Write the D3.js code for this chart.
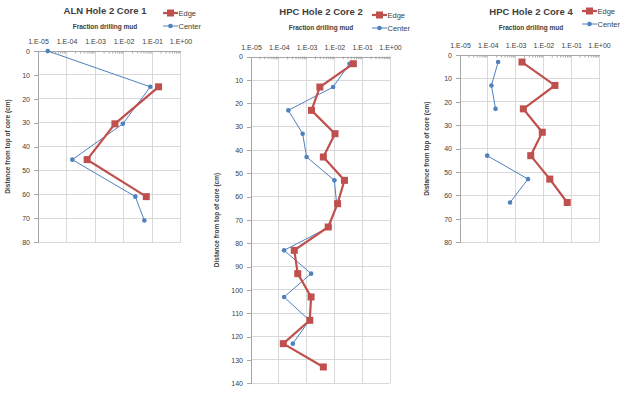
<!DOCTYPE html>
<html><head><meta charset="utf-8">
<script src="https://cdn.jsdelivr.net/npm/d3@7"></script>
<style>body{margin:0;background:#fff}svg{display:block}text{font-family:"Liberation Sans",Arial,sans-serif;fill:#404040}</style>
</head><body><svg id="c" width="624" height="397"></svg>
<script>
// ---- data ----
const decadeTicks = [1e-5, 1e-4, 1e-3, 1e-2, 1e-1, 1];
const seriesNames = ["Edge", "Center"];

const aln1Title = "ALN Hole 2 Core 1";
const aln1EdgeDepth = [15, 30.5, 45.5, 61];
const aln1Edge = [0.17, 0.005, 5.3e-4, 0.063];
const aln1CenterDepth = [0, 15, 30.5, 45.5, 61, 71];
const aln1Center = [2.2e-5, 0.087, 0.0095, 1.6e-4, 0.026, 0.054];
const aln1DepthTicks = [0, 10, 20, 30, 40, 50, 60, 70, 80];

const hpc2Title = "HPC Hole 2 Core 2";
const hpc2Depth = [3, 13, 23, 33, 43, 53, 63, 73, 83, 93, 103, 113, 123, 133];
const hpc2Edge = [0.048, 0.003, 0.0015, 0.0105, 0.004, 0.023, 0.013, 0.006, 3.6e-4, 4.8e-4, 0.00145, 0.0013, 1.45e-4, 0.004];
const hpc2Center = [0.035, 0.009, 2.2e-4, 7.2e-4, 0.001, 0.01, 0.012, 0.0066, 1.55e-4, 0.00145, 1.55e-4, 0.00125, 3.2e-4, null];
const hpc2DepthTicks = [0, 10, 20, 30, 40, 50, 60, 70, 80, 90, 100, 110, 120, 130, 140];

const hpc4Title = "HPC Hole 2 Core 4";
const hpc4Depth = [3, 13, 23, 33, 43, 53, 63];
const hpc4Edge = [0.0017, 0.026, 0.0019, 0.0091, 0.0035, 0.017, 0.072];
const hpc4Center = [2.35e-4, 1.35e-4, 1.9e-4, null, 9.5e-5, 0.0028, 6.3e-4];
const hpc4DepthTicks = [0, 10, 20, 30, 40, 50, 60, 70, 80];

const xTitle = "Fraction drilling mud";
const yTitle = "Distance from top of core (cm)";

// ---- drawing ----
const svg = d3.select("#c");
const EDGE = "#C0504D", CENTER = "#4F81BD";
const fmt = v => { const e = Math.round(Math.log10(v)); return "1.E" + (e < 0 ? "-" : "+") + String(Math.abs(e)).padStart(2, "0"); };

function zip(d, v) { return d.map((y, i) => ({ y, v: v[i] })); }

function drawChart(o) {
  const g = svg.append("g");
  const x = d3.scaleLog().domain([1e-5, 1]).range([o.x0, o.x1]);
  const y = d3.scaleLinear().domain([0, o.yMax]).range([o.y0, o.y1]);

  // gridlines
  g.append("g").selectAll("line").data(o.yTicks.slice(1)).join("line")
    .attr("x1", o.x0).attr("x2", o.x1).attr("y1", d => y(d)).attr("y2", d => y(d))
    .attr("stroke", "#D9D9D9").attr("stroke-width", 1).attr("shape-rendering", "crispEdges");
  g.append("g").selectAll("line").data(decadeTicks.slice(1)).join("line")
    .attr("x1", d => x(d)).attr("x2", d => x(d)).attr("y1", o.y0).attr("y2", o.y1)
    .attr("stroke", "#D9D9D9").attr("stroke-width", 1).attr("shape-rendering", "crispEdges");

  // top axis major
  const ax = g.append("g").attr("transform", `translate(0,${o.y0})`)
    .call(d3.axisTop(x).tickValues(decadeTicks).tickFormat(fmt).tickSize(0).tickPadding(7));
  ax.select(".domain").attr("stroke", "#A6A6A6").attr("shape-rendering", "crispEdges");
  ax.selectAll("text").attr("font-size", 7).attr("fill", "#404040");
  // minor ticks
  const minor = [];
  for (let e = -5; e < 0; e++) for (let k = 2; k <= 9; k++) minor.push(k * Math.pow(10, e));
  const mx = g.append("g").attr("transform", `translate(0,${o.y0})`)
    .call(d3.axisTop(x).tickValues(minor).tickFormat("").tickSize(-2.5));
  mx.select(".domain").remove();
  mx.selectAll("line").attr("stroke", "#A6A6A6");

  // left axis
  const ay = g.append("g").attr("transform", `translate(${o.x0},0)`)
    .call(d3.axisLeft(y).tickValues(o.yTicks).tickSize(4).tickPadding(4));
  ay.select(".domain").attr("stroke", "#A6A6A6").attr("shape-rendering", "crispEdges");
  ay.selectAll("line").attr("stroke", "#A6A6A6").attr("shape-rendering", "crispEdges");
  ay.selectAll("text").attr("font-size", 7).attr("fill", "#404040");

  // titles
  g.append("text").attr("x", o.tx).attr("y", o.ty).attr("text-anchor", "middle")
    .attr("font-size", 9.5).attr("font-weight", "bold").text(o.title);
  g.append("text").attr("x", o.tx).attr("y", o.ty + 15).attr("text-anchor", "middle")
    .attr("font-size", 6.5).attr("font-weight", "bold").text(xTitle);
  g.append("text").attr("transform", `translate(${o.ytx},${(o.y0 + o.y1) / 2}) rotate(-90)`)
    .attr("text-anchor", "middle").attr("font-size", 6.5).attr("font-weight", "bold").text(yTitle);

  const line = d3.line().defined(d => d.v != null).x(d => x(d.v)).y(d => y(d.y));

  // center series
  const cd = zip(o.cDepth, o.center);
  g.append("path").attr("d", line(cd)).attr("fill", "none").attr("stroke", CENTER).attr("stroke-width", 1);
  g.append("g").selectAll("circle").data(cd.filter(d => d.v != null)).join("circle")
    .attr("cx", d => x(d.v)).attr("cy", d => y(d.y)).attr("r", 2.3).attr("fill", CENTER);

  // edge series
  const ed = zip(o.eDepth, o.edge);
  g.append("path").attr("d", line(ed)).attr("fill", "none").attr("stroke", EDGE).attr("stroke-width", 2.2);
  g.append("g").selectAll("rect").data(ed.filter(d => d.v != null)).join("rect")
    .attr("x", d => x(d.v) - 3.5).attr("y", d => y(d.y) - 3.5).attr("width", 7).attr("height", 7)
    .attr("fill", EDGE);

  // legend
  const lg = g.append("g").attr("transform", `translate(${o.lx},${o.ly})`);
  lg.append("line").attr("x1", 0).attr("x2", 15).attr("y1", 0).attr("y2", 0).attr("stroke", EDGE).attr("stroke-width", 2.2);
  lg.append("rect").attr("x", 4).attr("y", -3.5).attr("width", 7).attr("height", 7).attr("fill", EDGE);
  lg.append("text").attr("x", 15.5).attr("y", 2.5).attr("font-size", 7.5).text(seriesNames[0]);
  lg.append("line").attr("x1", 0).attr("x2", 15).attr("y1", 13).attr("y2", 13).attr("stroke", CENTER).attr("stroke-width", 1);
  lg.append("circle").attr("cx", 7.5).attr("cy", 13).attr("r", 2.3).attr("fill", CENTER);
  lg.append("text").attr("x", 15.5).attr("y", 15.5).attr("font-size", 7.5).text(seriesNames[1]);
}

drawChart({ title: aln1Title, x0: 38, x1: 180.5, y0: 51, y1: 242, yMax: 80, yTicks: aln1DepthTicks,
  eDepth: aln1EdgeDepth, edge: aln1Edge, cDepth: aln1CenterDepth, center: aln1Center,
  tx: 105, ty: 14, ytx: 10, lx: 163, ly: 13 });
drawChart({ title: hpc2Title, x0: 251, x1: 390, y0: 56.7, y1: 383.3, yMax: 140, yTicks: hpc2DepthTicks,
  eDepth: hpc2Depth, edge: hpc2Edge, cDepth: hpc2Depth, center: hpc2Center,
  tx: 321, ty: 15, ytx: 219, lx: 372, ly: 15 });
drawChart({ title: hpc4Title, x0: 460, x1: 599, y0: 55, y1: 242.3, yMax: 80, yTicks: hpc4DepthTicks,
  eDepth: hpc4Depth, edge: hpc4Edge, cDepth: hpc4Depth, center: hpc4Center,
  tx: 531, ty: 15, ytx: 429, lx: 582, ly: 11 });
</script></body></html>
